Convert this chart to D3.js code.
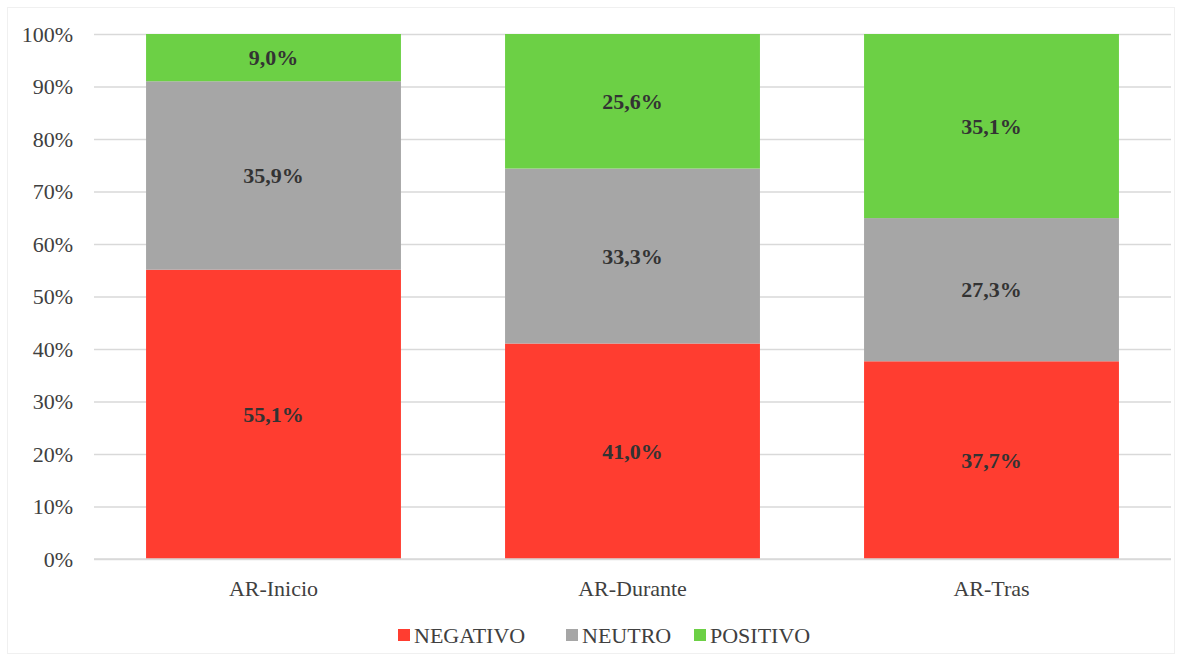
<!DOCTYPE html>
<html>
<head>
<meta charset="utf-8">
<script src="https://cdn.jsdelivr.net/npm/d3@7"></script>
<style>
  body { margin: 0; background: #fff; }
  svg { display: block; }
  svg text { font-family: "Liberation Serif", "Times New Roman", serif; }
</style>
</head>
<body>
<div id="chart"></div>
<script>
// data
var categories = ["AR-Inicio", "AR-Durante", "AR-Tras"];
var seriesNames = ["NEGATIVO", "NEUTRO", "POSITIVO"];
var negativo = [55.1, 41.0, 37.7];
var neutro = [35.9, 33.3, 27.3];
var positivo = [9.0, 25.6, 35.1];
var yTicks = [0, 10, 20, 30, 40, 50, 60, 70, 80, 90, 100];
var colors = ["#FF3D30", "#A6A6A6", "#6CD045"];

var width = 1182, height = 661;
var margin = {top: 34, right: 11, bottom: 102, left: 94};
var serif = "Liberation Serif, Times New Roman, serif";

var data = categories.map((c, i) => ({
    cat: c, NEGATIVO: negativo[i], NEUTRO: neutro[i], POSITIVO: positivo[i]
}));

var stacked = d3.stack().keys(seriesNames).offset(d3.stackOffsetExpand)(data);

var color = d3.scaleOrdinal().domain(seriesNames).range(colors);

var x = d3.scaleBand()
    .domain(categories)
    .range([margin.left, width - margin.right])
    .paddingInner(0.29)
    .paddingOuter(0.145);

var y = d3.scaleLinear()
    .domain([0, 1])
    .range([height - margin.bottom, margin.top]);

var svg = d3.select("#chart").append("svg")
    .attr("width", width)
    .attr("height", height);

// faint frame round the chart area
svg.append("rect")
    .attr("x", 7.5).attr("y", 7.5)
    .attr("width", width - 15).attr("height", height - 15)
    .attr("fill", "none")
    .attr("stroke", "#f0f0f0");

// grid + y ticks
var yAxis = g => g
    .attr("transform", `translate(${margin.left},0)`)
    .call(d3.axisLeft(y).tickValues(yTicks.map(t => t / 100)).tickFormat(d => Math.round(d * 100) + "%").tickSize(0).tickPadding(21))
    .attr("font-family", serif)
    .call(g => g.select(".domain").remove())
    .call(g => g.selectAll(".tick line").clone()
        .attr("x2", width - margin.right - margin.left)
        .attr("stroke", "#d9d9d9")
        .attr("stroke-width", 1.3))
    .call(g => g.selectAll(".tick text")
        .attr("fill", "#404040")
        .attr("font-size", 22));

svg.append("g").call(yAxis);

// bars
var layer = svg.append("g")
    .selectAll("g")
    .data(stacked)
    .join("g")
    .attr("fill", d => color(d.key));

layer.selectAll("rect")
    .data(d => d)
    .join("rect")
    .attr("x", d => x(d.data.cat))
    .attr("width", x.bandwidth())
    .attr("y", d => y(d[1]))
    .attr("height", d => y(d[0]) - y(d[1]));

// value labels
svg.append("g")
    .attr("font-family", serif)
    .selectAll("g")
    .data(stacked)
    .join("g")
    .selectAll("text")
    .data(d => d.map(v => Object.assign(v, {key: d.key})))
    .join("text")
    .attr("x", d => x(d.data.cat) + x.bandwidth() / 2)
    .attr("y", d => (y(d[0]) + y(d[1])) / 2)
    .attr("dy", "0.35em")
    .attr("text-anchor", "middle")
    .attr("fill", "#333")
    .attr("font-size", 22)
    .attr("font-weight", "bold")
    .text(d => d3.format(".1f")(d.data[d.key]).replace(".", ",") + "%");

// x axis
var xAxis = g => g
    .attr("transform", `translate(0,${height - margin.bottom})`)
    .call(d3.axisBottom(x).tickSize(0).tickPadding(21))
    .attr("font-family", serif)
    .call(g => g.select(".domain").attr("stroke", "#d9d9d9").attr("stroke-width", 1.3)
        .attr("d", `M${margin.left},0H${width - margin.right}`))
    .call(g => g.selectAll(".tick text")
        .attr("fill", "#404040")
        .attr("font-size", 22));

svg.append("g").call(xAxis);

// legend
var legendX = [398, 566, 694];
var legend = svg.append("g")
    .attr("font-family", serif)
    .selectAll("g")
    .data(seriesNames)
    .join("g")
    .attr("transform", (d, i) => `translate(${legendX[i]},635)`);

legend.append("rect")
    .attr("x", 0).attr("y", -6)
    .attr("width", 12).attr("height", 12)
    .attr("fill", d => color(d));

legend.append("text")
    .attr("x", 16)
    .attr("dy", "0.35em")
    .attr("fill", "#404040")
    .attr("font-size", 22)
    .text(d => d);
</script>
</body>
</html>
